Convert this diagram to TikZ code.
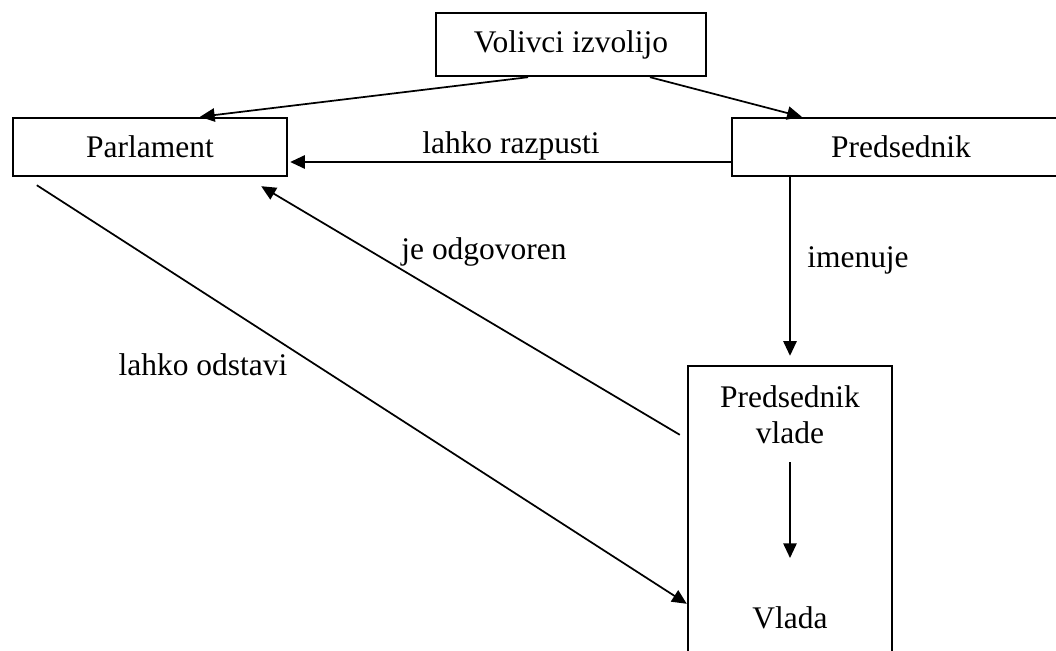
\documentclass[tikz,border=0pt]{standalone}
\usepackage{fontspec}
\setmainfont{Liberation Serif}
\usetikzlibrary{arrows.meta,calc,positioning}

\begin{document}
\begin{tikzpicture}[x=0.75pt,y=-0.75pt,
  box/.style={draw,line width=1.8pt,inner sep=0pt,font=\fontsize{23.6}{27}\selectfont},
  txt/.style={inner sep=0pt,align=center,font=\fontsize{23.6}{27}\selectfont},
  conn/.style={line width=1.3pt,-{Triangle[length=11pt,width=10pt]}}]

\useasboundingbox (0,0) rectangle (1056,650);
\clip (0,0) rectangle (1056,650);

% the boxes
\node[box,minimum width=202.5pt,minimum height=47.25pt] (volivci) at (571,44.5) {Volivci izvolijo};
\node[box,minimum width=205.5pt,minimum height=43.5pt] (parlament) at (150,147) {Parlament};
\node[box,minimum width=253.5pt,minimum height=43.5pt] (predsednik) at (901,147) {Predsednik};
\node[box,minimum width=153pt,minimum height=250.5pt] (vladabox) at (790,533) {};

% inside the big box
\node[txt] (predvlade) at (790,415) {Predsednik\\vlade};
\node[txt] (vlada) at (790,618) {Vlada};
\draw[conn,shorten <=35.25pt,shorten >=45pt] (predvlade.center) -- (vlada.center);

% who elects
\draw[conn] ($(volivci.south)+(-43,0)$) -- ($(parlament.north)+(50,0)$);
\draw[conn] ($(volivci.south)+(79,0)$) -- ($(predsednik.north west)+(71,0)$);

% the relations
\draw[conn] ($(predsednik.west)+(0,15)$) -- ($(parlament.east)+(2,15)$);
\draw[conn,shorten >=6.75pt] (vladabox.north |- predsednik.south) -- (vladabox.north);
\draw[conn] ($(vladabox.north west)+(-7,70)$) -- ($(parlament.south east)+(-27,9)$);
\draw[conn] ($(parlament.south west)+(25,8)$) -- ($(vladabox.north west)+(0,239)$);

% labels
\node[txt] (razpusti) at (511,146) {lahko razpusti};
\node[txt] (imenuje) at (858,260) {imenuje};
\node[txt] (odgovoren) at (484,252) {je odgovoren};
\node[txt] (odstavi) at (203,365) {lahko odstavi};
\end{tikzpicture}
\end{document}
